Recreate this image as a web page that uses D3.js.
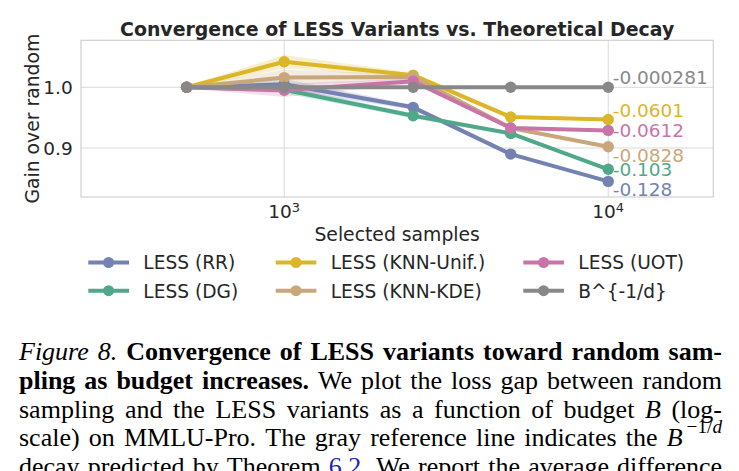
<!DOCTYPE html>
<html>
<head>
<meta charset="utf-8">
<script src="https://cdn.jsdelivr.net/npm/d3@7"></script>
<style>
  html, body { margin: 0; padding: 0; background: #ffffff; }
  svg { display: block; }
</style>
</head>
<body>
<svg id="chart" width="739" height="471"></svg>
<script>
// ---------------- DATA ----------------
const budgets = [500, 1000, 2500, 5000, 10000];
const seriesNames = ["LESS (RR)", "LESS (DG)", "LESS (KNN-Unif.)", "LESS (KNN-KDE)", "LESS (UOT)", "B^{-1/d}"];
const rrValues     = [1.000, 1.005, 0.967, 0.890, 0.845];
const dgValues     = [1.000, 0.996, 0.953, 0.924, 0.865];
const unifValues   = [1.000, 1.042, 1.020, 0.951, 0.947];
const kdeValues    = [1.000, 1.016, 1.017, 0.933, 0.902];
const uotValues    = [1.000, 0.995, 1.010, 0.933, 0.929];
const theoryValues = [1.000, 1.000, 1.000, 1.000, 1.000];
// half-width of shaded band
const rrErr     = [0.002, 0.009, 0.004, 0.003, 0.002];
const dgErr     = [0.002, 0.006, 0.004, 0.003, 0.002];
const unifErr   = [0.002, 0.011, 0.004, 0.003, 0.002];
const kdeErr    = [0.002, 0.013, 0.004, 0.003, 0.002];
const uotErr    = [0.002, 0.011, 0.004, 0.003, 0.002];
const theoryErr = [0, 0, 0, 0, 0];
const endLabels = ["-0.128", "-0.103", "-0.0601", "-0.0828", "-0.0612", "-0.000281"];
const yTicks = [0.9, 1.0];
const xTicks = [1000, 10000];
const xLimits = [236, 21100];
const yLimits = [0.8193, 1.0774];
const titleText = "Convergence of LESS Variants vs. Theoretical Decay";
const xLabelText = "Selected samples";
const yLabelText = "Gain over random";

// ---------------- STYLE / LAYOUT ----------------
const colors = ["#7382b1", "#4fa88a", "#dbb628", "#c9a77b", "#c874a9", "#888888"];
const labelDy = [14.7, 6.7, -2.6, 15.7, 6.4, -3]; // label nudges (px)
const plot = { left: 81, right: 713.3, top: 40.3, bottom: 197 };
const chartFont = "'DejaVu Sans', sans-serif";
const textColor = "#262626";
const gridColor = "#d9d9d9";

const values = [rrValues, dgValues, unifValues, kdeValues, uotValues, theoryValues];
const errs = [rrErr, dgErr, unifErr, kdeErr, uotErr, theoryErr];

const svg = d3.select("#chart");
const x = d3.scaleLog().domain(xLimits).range([plot.left, plot.right]);
const y = d3.scaleLinear().domain(yLimits).range([plot.bottom, plot.top]);

// grid
const g = svg.append("g");
g.selectAll(".gy").data(yTicks).enter().append("line")
  .attr("x1", plot.left).attr("x2", plot.right)
  .attr("y1", d => y(d)).attr("y2", d => y(d))
  .attr("stroke", gridColor).attr("stroke-width", 1);
g.selectAll(".gx").data(xTicks).enter().append("line")
  .attr("y1", plot.top).attr("y2", plot.bottom)
  .attr("x1", d => x(d)).attr("x2", d => x(d))
  .attr("stroke", gridColor).attr("stroke-width", 1);
// frame
g.append("rect").attr("x", plot.left).attr("y", plot.top)
  .attr("width", plot.right - plot.left).attr("height", plot.bottom - plot.top)
  .attr("fill", "none").attr("stroke", "#d0d0d0").attr("stroke-width", 1.2);

// bands
const area = d3.area().x(d => x(d.b)).y0(d => y(d.v - d.e)).y1(d => y(d.v + d.e));
const line = d3.line().x(d => x(d.b)).y(d => y(d.v));
values.forEach((vals, i) => {
  const pts = budgets.map((b, j) => ({ b, v: vals[j], e: errs[i][j] }));
  svg.append("path").datum(pts).attr("d", area)
    .attr("fill", colors[i]).attr("fill-opacity", 0.22).attr("stroke", "none");
});
values.forEach((vals, i) => {
  const pts = budgets.map((b, j) => ({ b, v: vals[j] }));
  svg.append("path").datum(pts).attr("d", line)
    .attr("fill", "none").attr("stroke", colors[i]).attr("stroke-width", 4)
    .attr("stroke-linejoin", "round");
  svg.selectAll(null).data(pts).enter().append("circle")
    .attr("cx", d => x(d.b)).attr("cy", d => y(d.v)).attr("r", 5.7)
    .attr("fill", colors[i]);
});

// end labels
values.forEach((vals, i) => {
  svg.append("text")
    .attr("x", x(budgets[budgets.length - 1]) + 4.5)
    .attr("y", y(vals[vals.length - 1]) + labelDy[i])
    .attr("font-family", chartFont).attr("font-size", 18.5)
    .attr("fill", colors[i]).text(endLabels[i]);
});

// y ticks
svg.selectAll(".yt").data(yTicks).enter().append("text")
  .attr("x", 72.7).attr("y", d => y(d) + 6.6)
  .attr("text-anchor", "end").attr("font-family", chartFont)
  .attr("font-size", 18.5).attr("fill", textColor)
  .text(d => d3.format(".1f")(d));

// x ticks (10^n)
xTicks.forEach(t => {
  const tx = svg.append("text").attr("y", 218.3)
    .attr("font-family", chartFont).attr("font-size", 18.5).attr("fill", textColor)
    .attr("text-anchor", "middle").attr("x", x(t));
  tx.append("tspan").text("10");
  tx.append("tspan").attr("font-size", 13).attr("dy", -6.8).text(String(Math.round(Math.log10(t))));
});

// axis labels
svg.append("text").attr("x", (plot.left + plot.right) / 2).attr("y", 240.7)
  .attr("text-anchor", "middle").attr("font-family", chartFont)
  .attr("font-size", 18.8).attr("fill", textColor).text(xLabelText);
svg.append("text")
  .attr("transform", `translate(38.5,${(plot.top + plot.bottom) / 2}) rotate(-90)`)
  .attr("text-anchor", "middle").attr("font-family", chartFont)
  .attr("font-size", 18.8).attr("fill", textColor).text(yLabelText);

// title
svg.append("text").attr("x", (plot.left + plot.right) / 2).attr("y", 36)
  .attr("text-anchor", "middle").attr("font-family", chartFont)
  .attr("font-weight", "bold").attr("font-size", 18.9).attr("fill", textColor)
  .text(titleText);

// legend (3 columns, column-major)
const legCols = [88.3, 275.7, 523.3];
const legRows = [262.5, 290.7];
seriesNames.forEach((name, i) => {
  const cx = legCols[Math.floor(i / 2)];
  const cy = legRows[i % 2];
  svg.append("line").attr("x1", cx).attr("x2", cx + 40.7).attr("y1", cy).attr("y2", cy)
    .attr("stroke", colors[i]).attr("stroke-width", 4);
  svg.append("circle").attr("cx", cx + 20.3).attr("cy", cy).attr("r", 5.5).attr("fill", colors[i]);
  svg.append("text").attr("x", cx + 55).attr("y", cy + 6.8)
    .attr("font-family", chartFont).attr("font-size", 18.6).attr("fill", textColor)
    .text(name);
});

// ---------------- CAPTION ----------------
const captionLines = [
  [["Figure 8.", "i"], [" ", "r"], ["Convergence of LESS variants toward random sam-", "b"]],
  [["pling as budget increases.", "b"], [" We plot the loss gap between random", "r"]],
  [["sampling and the LESS variants as a function of budget ", "r"], ["B", "i"], [" (log-", "r"]],
  [["scale) on MMLU-Pro. The gray reference line indicates the ", "r"], ["B", "i"], ["\u22121/", "supr"], ["d", "supi"]],
  [["decay predicted by Theorem ", "r"], ["6.2", "link"], [". We report the average difference", "r"]]
];
const capFont = "'Liberation Serif', 'Times New Roman', serif";
const capSize = 26;
const capLeft = 19, capRight = 722;
const capBase = 360, capLead = 28.8;

function styleText(sel, s) {
  sel.attr("font-family", capFont).attr("fill", "#000").attr("font-size", capSize);
  if (s === "i" || s === "supi") sel.attr("font-style", "italic");
  if (s === "b") sel.attr("font-weight", "bold");
  if (s === "supr" || s === "supi") sel.attr("font-size", capSize * 0.74);
  if (s === "link") sel.attr("fill", "#2323b5");
  return sel;
}
const measurer = svg.append("g").attr("opacity", 0);
function measure(t, s) {
  const el = styleText(measurer.append("text").attr("xml:space", "preserve"), s).text(t);
  const w = el.node().getComputedTextLength();
  el.remove();
  return w;
}
captionLines.forEach((runs, li) => {
  const words = [[]];
  runs.forEach(([t, s]) => {
    const parts = t.split(" ");
    parts.forEach((p, k) => {
      if (k > 0) words.push([]);
      if (p.length) words[words.length - 1].push({ t: p, s });
    });
  });
  const ws = words.filter(w => w.length);
  ws.forEach(w => w.forEach((p, k) => {
    p.w = measure(p.t, p.s);
    if (p.s === "i" && w[k + 1] && w[k + 1].s === "supr") p.w += 4; // italic correction
  }));
  const total = d3.sum(ws, w => d3.sum(w, p => p.w));
  let gap = (capRight - capLeft - total) / (ws.length - 1);
  let cx = capLeft;
  const by = capBase + li * capLead;
  ws.forEach(w => {
    w.forEach(p => {
      const sup = p.s === "supr" || p.s === "supi";
      styleText(svg.append("text"), p.s)
        .attr("x", cx).attr("y", sup ? by - 13 : by).text(p.t);
      cx += p.w;
    });
    cx += gap;
  });
});
measurer.remove();
</script>
</body>
</html>
